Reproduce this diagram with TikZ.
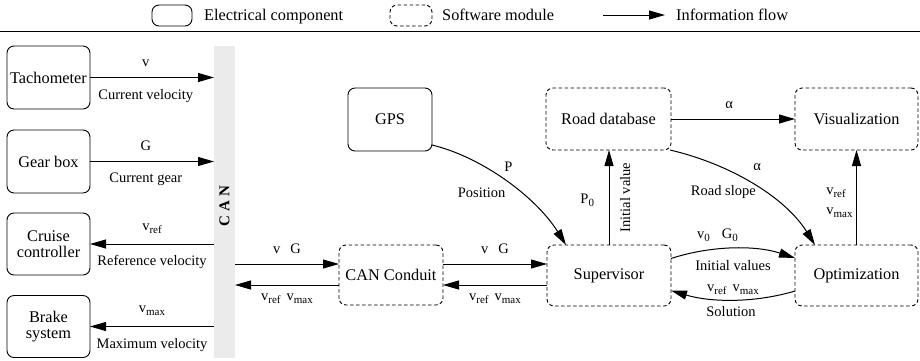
\documentclass[tikz,border=0pt]{standalone}
\usepackage{fontspec}
\setmainfont{Liberation Serif}
\usetikzlibrary{arrows.meta,calc}
\newcommand\lsub[1]{\raisebox{-3pt}{\fontsize{11}{11}\selectfont #1}}
\begin{document}
\begin{tikzpicture}[x=1pt,y=-1pt,
  box/.style={draw=black, line width=0.9pt, rounded corners=7pt, inner sep=0pt, outer sep=0pt, align=center, font=\fontsize{16.3}{16.5}\selectfont},
  elec/.style={box},
  soft/.style={box, dash pattern=on 3.5pt off 2.5pt},
  arr/.style={line width=1pt, -{Triangle[length=16pt,width=9pt]}},
  lab/.style={inner sep=0pt, outer sep=0pt, font=\fontsize{14.5}{20}\selectfont},
  leg/.style={inner sep=0pt, font=\fontsize{16.3}{18}\selectfont},
]
\useasboundingbox (0,0) rectangle (920,360);

% legend
\node[elec, minimum width=40pt, minimum height=21pt] (legE) at (172,15.5) {};
\node[leg, anchor=base west] (legEt) at (204,20.4) {Electrical component};
\node[soft, minimum width=42pt, minimum height=21pt] (legS) at (411,15.5) {};
\node[leg, anchor=base west] (legSt) at (442,20.4) {Software module};
\coordinate (la1) at (603,15);
\coordinate (la2) at (665,15);
\draw[arr] (la1) -- (la2);
\node[leg, anchor=base west] (legIt) at (676,20.4) {Information flow};
\coordinate (hl1) at (0,31);
\coordinate (hl2) at (920,31);
\draw[line width=1pt] (hl1) -- (hl2);

% CAN bus
\node[fill=gray!16, minimum width=21pt, minimum height=312pt, inner sep=0pt, outer sep=0pt] (canbar) at (224.5,202) {};
\node[rotate=90, inner sep=0pt, font=\fontsize{15}{15}\selectfont\bfseries] (cantext) at (224.5,206) {C A N};

% left components
\node[elec, minimum width=83pt, minimum height=63pt] (tach) at (48.5,77.5) {Tachometer};
\node[elec, minimum width=83pt, minimum height=63pt] (gear) at (48.5,161.5) {Gear box};
\node[elec, minimum width=83pt, minimum height=62pt] (cruise) at (48.5,244) {Cruise\\controller};
\node[elec, minimum width=83pt, minimum height=62pt] (brake) at (48.5,326.5) {Brake\\system};

\draw[arr] (tach.east) -- (tach.east -| canbar.west)
  node[lab, pos=0.45, above=10.5pt] {v}
  node[lab, pos=0.45, below=11.5pt] {Current velocity};
\draw[arr] (gear.east) -- (gear.east -| canbar.west)
  node[lab, pos=0.45, above=10.5pt] {G}
  node[lab, pos=0.45, below=11.5pt] {Current gear};
\draw[arr] (cruise.east -| canbar.west) -- (cruise.east)
  node[lab, pos=0.5, above=10.5pt] {v\lsub{ref}}
  node[lab, pos=0.5, below=11.5pt] {Reference velocity};
\draw[arr] (brake.east -| canbar.west) -- (brake.east)
  node[lab, pos=0.5, above=10.5pt] {v\lsub{max}}
  node[lab, pos=0.5, below=11.5pt] {Maximum velocity};

% middle modules
\node[soft, minimum width=104pt, minimum height=60pt] (conduit) at (391,275) {CAN Conduit};
\node[soft, minimum width=124pt, minimum height=61pt] (sup) at (609,275.5) {Supervisor};
\node[soft, minimum width=125pt, minimum height=62pt] (rdb) at (608.5,119) {Road database};
\node[soft, minimum width=123pt, minimum height=62pt] (vis) at (856.5,119) {Visualization};
\node[soft, minimum width=123pt, minimum height=61pt] (opt) at (856.5,275.5) {Optimization};
\node[elec, minimum width=84pt, minimum height=63pt] (gps) at (390,119.5) {GPS};

% CAN <-> conduit
\coordinate (cu) at ($(conduit.west)+(0,-11)$);
\coordinate (cd) at ($(conduit.west)+(0,10)$);
\draw[arr] (cu -| canbar.east) -- (cu)
  node[lab, midway, above=10.5pt] {v\hspace{10pt}G};
\draw[arr] (cd) -- (cd -| canbar.east)
  node[lab, midway, below=9pt] {v\lsub{ref}\hspace{6pt}v\lsub{max}};

% conduit <-> supervisor
\coordinate (su) at ($(conduit.east)+(0,-11)$);
\coordinate (sd) at ($(conduit.east)+(0,10)$);
\draw[arr] (su) -- (su -| sup.west)
  node[lab, midway, above=10.5pt] {v\hspace{10pt}G};
\draw[arr] (sd -| sup.west) -- (sd)
  node[lab, midway, below=9pt] {v\lsub{ref}\hspace{6pt}v\lsub{max}};

% supervisor -> road database
\draw[arr] (sup.north) -- (sup.north |- rdb.south)
  node[lab, midway, left=15pt, yshift=-2.5pt] {P\lsub{0}}
  node[lab, midway, anchor=north, rotate=90, inner ysep=11pt] {Initial value};

% road database -> visualization
\draw[arr] (rdb.east) -- (vis.west)
  node[lab, pos=0.47, above=10.5pt] {α};

% optimization -> visualization
\draw[arr] (opt.north) -- (vis.south)
  node[lab, midway, left=4pt, yshift=-5pt, align=left] {v\lsub{ref}\\v\lsub{max}};

% GPS -> supervisor
\coordinate (g0) at ($(gps.south east)+(0,-6)$);
\coordinate (g1) at ($(sup.north west)+(19,0)$);
\draw[arr] (g0) .. controls +(50,12) and +(-30,-48) .. (g1)
  node[lab, pos=0.5, xshift=1.8pt, yshift=14.8pt] {P}
  node[lab, pos=0.5, xshift=-24.8pt, yshift=-10.8pt] {Position};

% road database -> optimization
\coordinate (r0) at ($(rdb.south east)+(-1,0)$);
\coordinate (r1) at ($(opt.north west)+(20,0)$);
\draw[arr] (r0) .. controls +(60,14) and +(-30,-48) .. (r1)
  node[lab, pos=0.5, xshift=3.5pt, yshift=18pt] {α}
  node[lab, pos=0.5, xshift=-30.4pt, yshift=-7.6pt] {Road slope};

% supervisor <-> optimization
\coordinate (s0) at ($(sup.east)+(0,-17)$);
\coordinate (o0) at ($(opt.west)+(0,-17.5)$);
\draw[arr] (s0) .. controls +(40,-13) and +(-40,-13) .. (o0)
  node[lab, pos=0.5, xshift=-15.5pt, yshift=13.2pt] {v\lsub{0}\hspace{12pt}G\lsub{0}}
  node[lab, pos=0.5, yshift=-16.75pt] {Initial values};
\coordinate (o1) at ($(opt.west)+(0,15.5)$);
\coordinate (s1) at ($(sup.east)+(0,15)$);
\draw[arr] (o1) .. controls +(-40,12) and +(40,12) .. (s1)
  node[lab, pos=0.5, yshift=9.9pt] {v\lsub{ref}\hspace{6pt}v\lsub{max}}
  node[lab, pos=0.5, xshift=-2pt, yshift=-11.95pt] {Solution};
\end{tikzpicture}
\end{document}
